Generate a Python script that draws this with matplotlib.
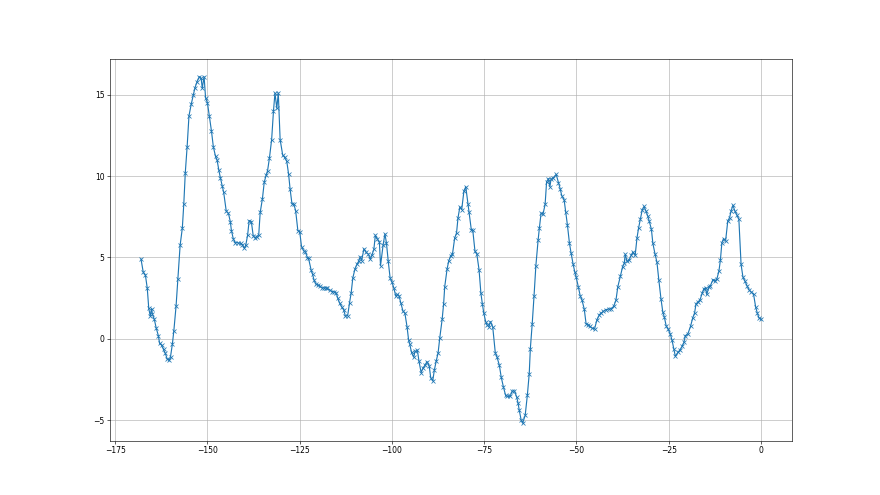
import numpy as np
import matplotlib
matplotlib.use("Agg")
import matplotlib.pyplot as plt

# values, left to right
x_a = [-168.0, -167.4, -166.8, -166.3, -165.9, -165.5, -165.1, -164.9, -164.4, -163.9,
       -163.3, -162.95, -162.4, -161.9, -161.4, -160.9, -160.3, -160.0, -159.5, -159.1,
       -158.5, -158.0, -157.4, -156.8, -156.4, -156.0, -155.5, -155.0, -154.4, -153.8,
       -153.4, -152.8, -152.2, -151.7, -151.4, -150.9, -150.5, -150.0, -149.5, -148.9,
       -148.4, -147.8, -147.4, -146.9, -146.5, -146.0, -145.6, -144.9, -144.3, -143.8,
       -143.5, -143.0, -142.5, -141.8]
y_a = [4.9, 4.1, 3.9, 3.1, 1.87, 1.4, 1.85, 1.5, 1.2, 0.68,
       0.19, -0.29, -0.4, -0.66, -0.9, -1.25, -1.3, -1.1, -0.33, 0.49,
       2.0, 3.7, 5.74, 6.8, 8.3, 10.2, 11.8, 13.7, 14.4, 15.0,
       15.4, 15.8, 16.1, 16.0, 15.4, 16.1, 14.8, 14.5, 13.7, 12.75,
       11.8, 11.2, 11.0, 10.35, 9.9, 9.4, 9.0, 7.84, 7.7, 7.2,
       6.65, 6.15, 5.9, 5.9]

x_b = [-141.0, -140.5, -140.0, -139.6, -139.1, -138.7, -138.1, -137.6, -137.1, -136.7,
       -136.1, -135.7, -135.1, -134.6, -134.1, -133.7, -133.2, -132.6, -132.1, -131.7,
       -131.2, -130.8, -130.3, -129.6, -129.1, -128.5, -128.0, -127.6, -127.1, -126.6,
       -126.1, -125.5, -125.0, -124.5, -123.9, -123.5, -122.9, -122.6, -121.9, -121.5,
       -121.1, -120.6, -120.0, -119.5, -119.0, -118.5, -118.0, -117.6]
y_b = [5.86, 5.76, 5.56, 5.76, 6.38, 7.26, 7.2, 6.34, 6.2, 6.28,
       6.38, 7.76, 8.6, 9.63, 10.04, 10.33, 11.1, 12.24, 14.0, 15.1,
       14.16, 15.1, 12.24, 11.28, 11.15, 10.9, 10.1, 9.2, 8.3, 8.27,
       7.88, 6.65, 6.58, 5.66, 5.4, 5.35, 4.98, 4.94, 4.22, 3.95,
       3.6, 3.35, 3.3, 3.23, 3.13, 3.13, 3.13, 3.09]

x_c = [-116.9, -116.2, -115.6, -115.1, -114.7, -114.2, -113.6, -113.1, -112.6, -112.0,
       -111.5, -111.05, -110.6, -110.05, -109.5, -109.0, -108.6, -108.2, -107.6, -107.0,
       -106.4, -105.9, -105.4, -104.9, -104.5, -104.0, -103.4, -103.1, -102.4, -101.9,
       -101.5, -101.0, -100.5, -100.0, -99.5, -99.0, -98.55, -98.1, -97.6, -97.0,
       -96.5, -95.9, -95.5, -95.2, -94.7, -94.1, -93.75, -93.1, -92.7, -92.1,
       -91.6, -91.0, -90.5, -89.9, -89.5, -88.95, -88.5, -88.0, -87.5, -87.05]
y_c = [3.0, 2.9, 2.88, 2.82, 2.5, 2.2, 1.95, 1.79, 1.38, 1.42,
       2.2, 2.82, 3.74, 4.26, 4.57, 4.77, 5.04, 4.8, 5.53, 5.3,
       5.2, 4.9, 5.15, 5.5, 6.36, 6.15, 5.95, 4.48, 5.76, 6.44,
       5.9, 4.75, 3.74, 3.48, 3.13, 2.65, 2.72, 2.65, 2.2, 1.69,
       1.58, 0.72, -0.06, -0.3, -0.84, -1.13, -0.78, -0.72, -1.34, -2.08,
       -1.81, -1.6, -1.4, -1.67, -2.39, -2.59, -1.91, -1.36, -0.88, 0.04]

x_d = [-86.4, -86.0, -85.7, -85.05, -84.6, -84.1, -83.6, -83.0, -82.5, -82.1,
       -81.6, -81.1, -80.5, -80.0, -79.4, -79.1, -78.5, -78.1, -77.5, -77.0,
       -76.4, -75.9, -75.5, -75.1, -74.6, -74.2, -73.7, -73.3, -72.7, -72.0,
       -71.5, -70.9, -70.4, -69.8, -69.2, -68.7, -68.0, -67.4, -66.8, -66.2,
       -65.85, -65.5, -65.0, -64.6, -63.9, -63.3, -62.8, -62.5, -62.0, -61.5,
       -61.0, -60.4, -60.05, -59.6, -59.05, -58.5, -58.1, -57.6, -57.2, -56.9,
       -56.25, -55.5, -54.9, -54.4]
y_d = [1.19, 2.14, 3.2, 4.3, 4.79, 5.1, 5.2, 6.19, 6.5, 7.43,
       8.1, 7.94, 9.07, 9.34, 8.3, 7.78, 6.7, 6.67, 5.37, 5.2,
       4.24, 2.8, 2.14, 1.56, 1.05, 0.84, 0.74, 1.05, 0.74, -0.86,
       -1.15, -1.63, -2.35, -2.96, -3.48, -3.54, -3.54, -3.21, -3.21, -3.58,
       -3.93, -4.4, -4.98, -5.19, -4.71, -3.44, -2.14, -0.6, 0.9, 2.63,
       4.5, 6.05, 6.81, 7.7, 7.68, 8.25, 9.63, 9.84, 9.34, 9.8,
       9.9, 10.1, 9.6, 9.2]

x_e = [-54.0, -53.35, -52.9, -52.45, -51.9, -51.45, -50.9, -50.45, -50.1, -49.5,
       -49.0, -48.5, -47.9, -47.4, -46.8, -46.4, -45.8, -45.1, -44.5, -43.8,
       -43.3, -42.7, -42.0, -41.3, -40.6, -39.9, -39.3, -38.8, -38.1, -37.5,
       -37.05, -36.8, -36.3, -35.8, -35.2, -34.7, -34.1, -33.6, -33.15, -32.7,
       -32.2, -31.7, -31.2, -30.7, -30.3, -29.7, -29.3, -28.7, -28.2, -27.7]
y_e = [8.8, 8.54, 7.76, 6.98, 5.86, 5.25, 4.57, 4.1, 3.8, 3.19,
       2.65, 2.37, 1.83, 0.93, 0.86, 0.76, 0.66, 0.6, 1.13, 1.48,
       1.58, 1.69, 1.79, 1.83, 1.83, 2.0, 2.37, 3.19, 3.85, 4.42,
       4.63, 5.19, 4.77, 4.81, 5.12, 5.33, 5.12, 6.2, 6.83, 7.35,
       7.9, 8.13, 7.86, 7.55, 7.24, 6.73, 5.86, 5.19, 4.71, 3.64]

x_f = [-27.1, -26.6, -26.2, -25.7, -25.2, -24.6, -24.1, -23.6, -23.2, -22.55,
       -21.9, -21.4, -20.9, -20.5, -19.8, -19.1, -18.5, -18.0, -17.6, -17.1,
       -16.5, -15.9, -15.5, -15.0, -14.7, -14.1, -13.7, -13.0, -12.5, -11.95,
       -11.4, -11.0, -10.6, -10.15, -9.6, -9.0, -8.5, -8.1, -7.6, -7.1,
       -6.5, -6.0, -5.4, -4.9, -4.35, -3.8, -3.3, -2.6, -2.0, -1.45,
       -1.0, -0.55, 0.0]
y_f = [2.45, 1.63, 1.34, 0.8, 0.6, 0.31, -0.1, -0.64, -1.09, -0.84,
       -0.68, -0.47, -0.23, 0.19, 0.31, 0.76, 1.28, 1.58, 2.16, 2.24,
       2.41, 2.82, 3.07, 3.13, 2.72, 3.19, 3.27, 3.64, 3.54, 3.68,
       4.16, 4.84, 5.9, 6.15, 6.0, 7.24, 7.45, 7.86, 8.2, 7.86,
       7.59, 7.35, 4.57, 3.8, 3.54, 3.27, 3.02, 2.86, 2.72, 1.95,
       1.58, 1.28, 1.21]

x = np.array(x_a + x_b + x_c + x_d + x_e + x_f)
y = np.array(y_a + y_b + y_c + y_d + y_e + y_f)

fig = plt.figure(figsize=(16, 9), dpi=55)
ax = fig.add_subplot(1, 1, 1)
ax.plot(x, y, marker='x')
ax.grid(True)

fig.savefig("out.png", dpi=55)
